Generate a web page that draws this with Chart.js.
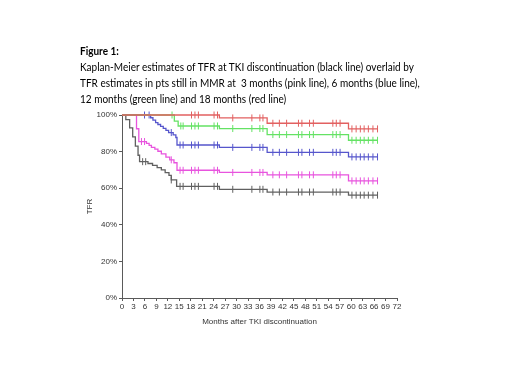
<!DOCTYPE html>
<html>
<head>
<meta charset="utf-8">
<script src="https://cdn.jsdelivr.net/npm/chart.js@4.4.0/dist/chart.umd.min.js"></script>
<style>
html, body { margin: 0; padding: 0; background: #fff; }
#wrap { position: relative; width: 520px; height: 390px; }
#km { position: absolute; left: 0; top: 0; }
#caption { position: absolute; left: 80px; top: 43px; font-family: Lato, "Open Sans", sans-serif; font-size: 11.5px; line-height: 16px; color: #000; white-space: nowrap; transform: scaleX(0.87); transform-origin: 0 0; }
</style>
</head>
<body>
<div id="wrap">
  <canvas id="km" width="520" height="390"></canvas>
  <div id="caption"><b>Figure 1:</b><br>Kaplan-Meier estimates of TFR at TKI discontinuation (black line) overlaid by<br>TFR estimates in pts still in MMR at&nbsp; 3 months (pink line), 6 months (blue line),<br>12 months (green line) and 18 months (red line)</div>
</div>
<script>
// step times (months) and TFR (%)
const redT   = [0, 25.5, 38, 59.3, 67];
const redS   = [100, 98.4, 95.5, 92.4, 92.4];
const greenT = [0, 13.7, 14.7, 25.5, 38, 59.3, 67];
const greenS = [100, 96.6, 94.0, 92.6, 89.3, 86.2, 86.2];
const blueT  = [0, 7.5, 8.1, 8.8, 9.4, 10.1, 10.8, 11.5, 12.2, 13.4, 14.1, 14.4, 25.5, 38, 59.3, 67];
const blueS  = [100, 98.5, 97.2, 95.8, 94.8, 93.8, 92.7, 91.6, 90.4, 89.1, 87.7, 83.6, 82.3, 79.6, 77.1, 77.1];
const pinkT  = [0, 3.8, 4.4, 6.4, 7.1, 7.7, 8.6, 9.4, 10.3, 11.5, 12.5, 13.6, 14.4, 25.5, 38, 59.3, 67];
const pinkS  = [100, 92.5, 85.5, 84.5, 83.4, 82.3, 81.3, 80.2, 78.8, 77.0, 75.5, 73.9, 69.8, 68.6, 67.3, 64.0, 64.0];
const blackT = [0, 1.0, 2.0, 2.8, 3.5, 4.2, 4.6, 6.8, 8.0, 9.2, 10.3, 11.3, 12.3, 12.9, 14.3, 25.5, 38, 59.3, 67];
const blackS = [100, 97.5, 93, 88, 83, 78, 74.5, 73.5, 72.5, 71.2, 70, 68.5, 67, 64.5, 61, 59.4, 57.9, 56.2, 56.2];

// censored observations (tick marks)
const lateCens  = [18.2, 19.1, 20.0, 24.1, 25.0, 29.0, 34.0, 36.1, 36.9, 39.5, 41.2, 43.1, 46.2, 47.1, 49.1, 50.1, 55.2, 56.1, 57.1, 60.2, 61.3, 62.4, 63.4, 64.5, 65.7, 66.9];
const redCens   = lateCens;
const greenCens = [13.1, 15.4, 16.0].concat(lateCens);
const blueCens  = [5.9, 7.1, 12.9, 15.2, 16.0].concat(lateCens);
const pinkCens  = [5.1, 5.9, 12.9, 15.2, 16.0].concat(lateCens);
const blackCens = [5.4, 6.2, 12.9, 15.2, 16.0].concat(lateCens);

const xTicks = { min: 0, max: 72, step: 3 };
const yTicks = { min: 0, max: 100, step: 20 };

function levelAt(T, S, t) {
    let v = S[0];
    for (let i = 0; i < T.length; i++) { if (T[i] <= t) v = S[i]; }
    return v;
}

const series = [
    { name: '18 months', T: redT,   S: redS,   cens: redCens,   color: 'rgb(226,96,96)' },
    { name: '12 months', T: greenT, S: greenS, cens: greenCens, color: 'rgb(100,226,100)' },
    { name: '6 months',  T: blueT,  S: blueS,  cens: blueCens,  color: 'rgb(86,86,204)' },
    { name: '3 months',  T: pinkT,  S: pinkS,  cens: pinkCens,  color: 'rgb(232,84,222)' },
    { name: 'all',       T: blackT, S: blackS, cens: blackCens, color: 'rgb(96,96,96)' }
];

const datasets = [];
series.forEach(s => {
    datasets.push({
        label: s.name,
        data: s.T.map((t, i) => ({ x: t, y: s.S[i] })),
        borderColor: s.color,
        borderWidth: 1.3,
        stepped: 'before',
        pointRadius: 0,
        showLine: true,
        fill: false,
        clip: false
    });
    datasets.push({
        label: s.name + ' censored',
        data: s.cens.map(t => ({ x: t, y: levelAt(s.T, s.S, t) })),
        borderColor: s.color,
        backgroundColor: s.color,
        pointStyle: 'line',
        rotation: 90,
        pointRadius: 3.5,
        pointBorderWidth: 1,
        showLine: false,
        clip: false
    });
});

const axisColor = '#5a5a5a';
const tickFont = { family: 'Arial, "Liberation Sans", sans-serif', size: 8 };

const ctx = document.getElementById('km').getContext('2d');
new Chart(ctx, {
    type: 'scatter',
    data: { datasets: datasets },
    options: {
        responsive: false,
        animation: false,
        layout: { padding: { left: 78, right: 123, top: 115, bottom: 60 } },
        plugins: { legend: { display: false }, tooltip: { enabled: false } },
        scales: {
            x: {
                type: 'linear',
                min: xTicks.min, max: xTicks.max,
                afterFit: s => { s.height = 32; },
                grid: { drawOnChartArea: false, drawTicks: true, tickLength: 3, color: axisColor },
                border: { display: true, color: axisColor, width: 1 },
                ticks: { stepSize: xTicks.step, autoSkip: false, maxRotation: 0, padding: 1, color: '#333', font: tickFont },
                title: { display: true, text: 'Months after TKI discontinuation', color: '#333', font: tickFont, padding: { top: 0, bottom: 3 } }
            },
            y: {
                type: 'linear',
                min: yTicks.min, max: yTicks.max,
                afterFit: s => { s.width = 44; },
                grid: { drawOnChartArea: false, drawTicks: true, tickLength: 3, color: axisColor },
                border: { display: true, color: axisColor, width: 1 },
                ticks: { stepSize: yTicks.step, padding: 2, color: '#333', font: tickFont, callback: v => v + '%' },
                title: { display: true, text: 'TFR', color: '#333', font: tickFont, padding: { top: 7, bottom: 0 } }
            }
        }
    }
});
</script>
</body>
</html>
